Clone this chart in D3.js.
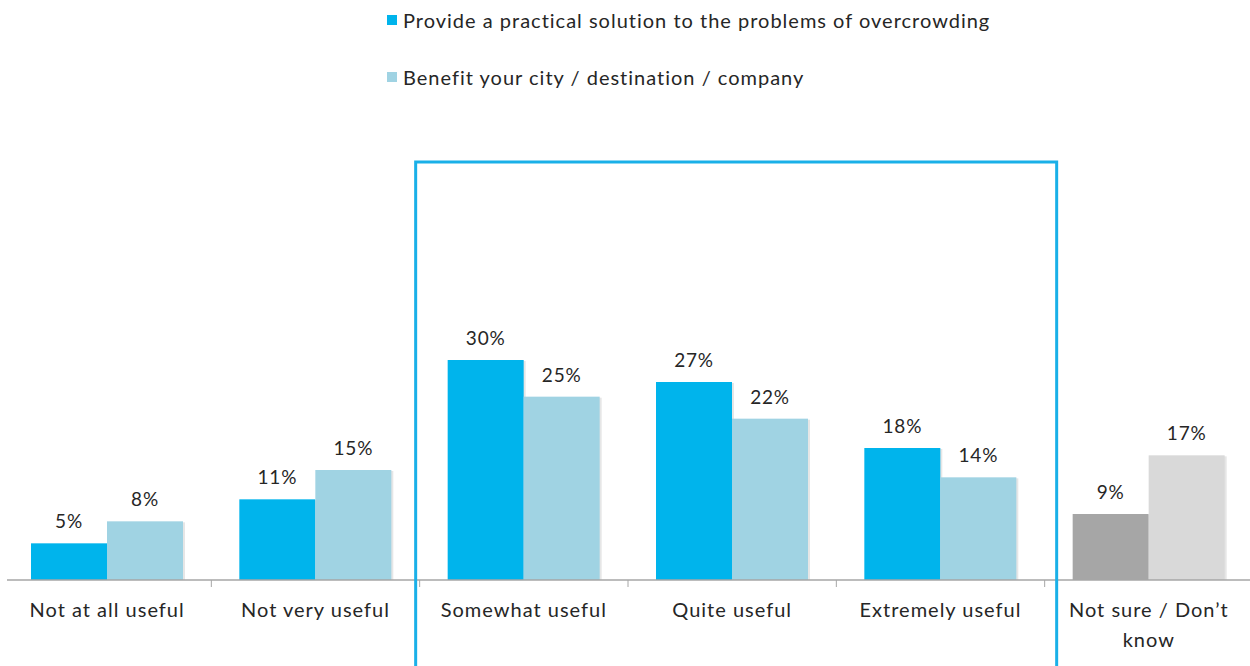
<!DOCTYPE html>
<html lang="en">
<head>
    <meta charset="utf-8">
    <title>Usefulness</title>
    <style>
        body {
            margin: 0;
            background: #fff;
        }
        svg text {
            font-family: Lato, "Open Sans", sans-serif;
            fill: #262626;
        }
    </style>
</head>
<body>
<svg class="chart"></svg>
<script src="https://d3js.org/d3.v7.min.js"></script>
<script>
    // data
    const categories = ["Not at all useful", "Not very useful", "Somewhat useful", "Quite useful", "Extremely useful", "Not sure / Don\u2019t know"];
    const seriesNames = ["Provide a practical solution to the problems of overcrowding", "Benefit your city / destination / company"];
    const solution = [5, 11, 30, 27, 18, 9];
    const benefit = [8, 15, 25, 22, 14, 17];

    const width = 1250, height = 666;
    const baseY = 580;
    const blue = "#00b4ec", lightBlue = "#a0d3e3";
    const grey = "#a6a6a6", lightGrey = "#d9d9d9";

    const svg = d3.select(".chart")
        .attr("width", width)
        .attr("height", height);

    const x = d3.scaleBand()
        .domain(categories)
        .range([3, 1253]);
    const bw = x.bandwidth();

    const inner = d3.scaleBand()
        .domain([0, 1])
        .range([28, 180])
        .padding(0);

    const y = d3.scaleLinear()
        .domain([0, 30])
        .range([baseY, 360]);

    function colorFor(s, i) {
        if (i === categories.length - 1) return s === 0 ? grey : lightGrey;
        return s === 0 ? blue : lightBlue;
    }

    const rows = categories.map(function(c, i) {
        return {cat: c, i: i, vals: [solution[i], benefit[i]]};
    });

    const group = svg.selectAll("g.cat")
        .data(rows)
        .enter().append("g")
        .attr("class", "cat")
        .attr("transform", function(d) { return "translate(" + x(d.cat) + ",0)"; });

    const bars = group.selectAll("g.bar")
        .data(function(d) {
            return d.vals.map(function(v, s) { return {v: v, s: s, i: d.i}; });
        })
        .enter().append("g")
        .attr("class", "bar");

    // faint shadow on right
    bars.append("rect")
        .attr("x", function(d) { return inner(d.s) + 2; })
        .attr("y", function(d) { return y(d.v) + 1; })
        .attr("width", inner.bandwidth())
        .attr("height", function(d) { return baseY - y(d.v) - 1; })
        .style("fill", "#e6e6e6");

    bars.append("rect")
        .attr("x", function(d) { return inner(d.s); })
        .attr("y", function(d) { return y(d.v); })
        .attr("width", inner.bandwidth())
        .attr("height", function(d) { return baseY - y(d.v); })
        .style("fill", function(d) { return colorFor(d.s, d.i); });

    bars.append("text")
        .attr("x", function(d) { return inner(d.s) + inner.bandwidth() / 2; })
        .attr("y", function(d) { return y(d.v) - 15; })
        .attr("text-anchor", "middle")
        .style("font-size", "19px")
        .style("letter-spacing", "0.8px")
        .text(function(d) { return d.v + "%"; });

    // axis
    const axis = svg.append("g")
        .attr("transform", "translate(0," + baseY + ")");
    axis.append("line")
        .attr("x1", 7).attr("x2", width)
        .attr("stroke", "#a6a6a6")
        .attr("stroke-width", 1.5);
    axis.selectAll("line.tick")
        .data(categories.slice(1))
        .enter().append("line")
        .attr("class", "tick")
        .attr("x1", function(d) { return x(d); })
        .attr("x2", function(d) { return x(d); })
        .attr("y1", 0).attr("y2", 7)
        .attr("stroke", "#a6a6a6");

    const labels = axis.selectAll("text.lbl")
        .data(categories)
        .enter().append("text")
        .attr("class", "lbl")
        .attr("x", function(d) { return x(d) + bw / 2; })
        .attr("y", 37)
        .attr("text-anchor", "middle")
        .style("font-size", "20px")
        .style("letter-spacing", "1px");
    labels.each(function(d) {
        const t = d3.select(this);
        const lines = d === categories[5] ? ["Not sure / Don\u2019t", "know"] : [d];
        lines.forEach(function(l, k) {
            t.append("tspan")
                .attr("x", x(d) + bw / 2)
                .attr("dy", k === 0 ? 0 : 30)
                .text(l);
        });
    });

    // highlight box around the useful categories
    const boxL = x(categories[2]) - 4;
    const boxR = x(categories[5]) + 12;
    svg.append("rect")
        .attr("x", boxL)
        .attr("y", 162)
        .attr("width", boxR - boxL)
        .attr("height", 510)
        .style("fill", "none")
        .style("stroke", "#1ab0e8")
        .style("stroke-width", 3);

    // legend
    const legend = svg.selectAll("g.legend")
        .data(seriesNames)
        .enter().append("g")
        .attr("class", "legend")
        .attr("transform", function(d, i) { return "translate(387," + (15 + i * 57) + ")"; });
    legend.append("rect")
        .attr("width", 10).attr("height", 10)
        .style("fill", function(d, i) { return i === 0 ? blue : lightBlue; });
    legend.append("text")
        .attr("x", 16)
        .attr("y", 13)
        .style("font-size", "20px")
        .style("letter-spacing", "1px")
        .text(function(d) { return d; });
</script>
</body>
</html>
